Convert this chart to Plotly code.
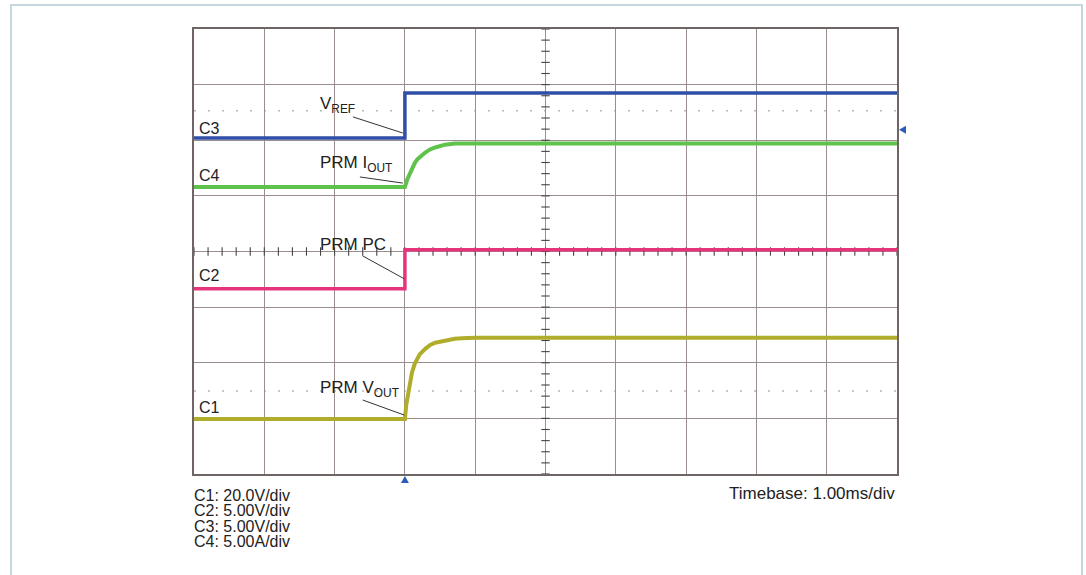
import plotly.graph_objects as go

# ---- data (time in divisions of 1.00 ms, amplitude in divisions) ----
t_step = [0.0, 3.0, 3.0, 10.0]
c3_vref = [6.04, 6.04, 6.85, 6.85]
c2_pc = [3.33, 3.33, 4.03, 4.03]

t_rise4 = [0.0, 3.0, 3.035, 3.07, 3.10, 3.14, 3.18, 3.21, 3.28, 3.35, 3.43, 3.57, 3.71, 4.0, 10.0]
c4_iout = [5.16, 5.16, 5.30, 5.41, 5.50, 5.59, 5.66, 5.70, 5.77, 5.83, 5.87, 5.92, 5.94, 5.94, 5.94]

t_rise1 = [0.0, 3.0, 3.02, 3.05, 3.07, 3.10, 3.14, 3.18, 3.21, 3.29, 3.36, 3.43, 3.57, 3.71, 3.81, 4.0, 10.0]
c1_vout = [0.99, 0.99, 1.25, 1.45, 1.62, 1.82, 1.98, 2.09, 2.15, 2.25, 2.32, 2.36, 2.40, 2.43, 2.44, 2.45, 2.45]

trigger_time = 3.0
trigger_level = 6.19

channel_labels = ["C3", "C4", "C2", "C1"]
channel_label_y = [6.22, 5.36, 3.56, 1.19]
scale_lines = ["C1: 20.0V/div", "C2: 5.00V/div", "C3: 5.00V/div", "C4: 5.00A/div"]
timebase = "Timebase: 1.00ms/div"

BLUE = "#2f4ea6"
GREEN = "#5ec24b"
PINK = "#e6347c"
OLIVE = "#b0ad2c"
GRID = "#9a8e8e"
TRIG = "#2e5cb8"
FONT = "Liberation Sans, Arial, sans-serif"
TXT = "#222222"

L, T = 194, 29
PW, PH = 703, 445
W, H = 1086, 575
XR, YR = 10.0, 8.0

fig = go.Figure()

# graticule dotted level lines
for yv in [6.53, 1.49]:
    fig.add_shape(type="line", x0=0, x1=10, y0=yv, y1=yv, xref="x", yref="y",
                  line=dict(color="#b8b8b8", width=1.5, dash="2px,12px"), layer="below")

# center cross ticks
tick_pos = [i * 0.2 for i in range(51)]
fig.add_trace(go.Scatter(x=tick_pos, y=[4.0] * len(tick_pos), mode="markers",
                         marker=dict(symbol="line-ns-open", size=6, color="#444",
                                     line=dict(width=1.1, color="#444")),
                         hoverinfo="skip", showlegend=False))
ytick_pos = [i * 0.2 for i in range(41)]
fig.add_trace(go.Scatter(x=[5.0] * len(ytick_pos), y=ytick_pos, mode="markers",
                         marker=dict(symbol="line-ew-open", size=6, color="#444",
                                     line=dict(width=1.1, color="#444")),
                         hoverinfo="skip", showlegend=False))

# signal traces
fig.add_trace(go.Scatter(x=t_step, y=c3_vref, mode="lines", line=dict(color=BLUE, width=3.5),
                         showlegend=False, name="C3"))
fig.add_trace(go.Scatter(x=t_rise4, y=c4_iout, mode="lines",
                         line=dict(color=GREEN, width=4),
                         showlegend=False, name="C4"))
fig.add_trace(go.Scatter(x=t_step, y=c2_pc, mode="lines", line=dict(color=PINK, width=3.5),
                         showlegend=False, name="C2"))
fig.add_trace(go.Scatter(x=t_rise1, y=c1_vout, mode="lines",
                         line=dict(color=OLIVE, width=4),
                         showlegend=False, name="C1"))

# trigger markers (paper-referenced so they sit outside the grid)
px = trigger_time / XR
dx, dy = 4 / PW, 4 / PH
fig.add_shape(type="path", xref="paper", yref="paper",
              path=f"M {px} {-2/PH} L {px - dx} {-9/PH} L {px + dx} {-9/PH} Z",
              fillcolor=TRIG, line=dict(color=TRIG, width=0))
py = trigger_level / YR
fig.add_shape(type="path", xref="paper", yref="paper",
              path=f"M {1 + 2/PW} {py} L {1 + 9/PW} {py + dy} L {1 + 9/PW} {py - dy} Z",
              fillcolor=TRIG, line=dict(color=TRIG, width=0))

# leader lines
leaders = [((2.26, 6.42), (2.97, 6.13)),
           ((2.36, 5.34), (2.97, 5.23)),
           ((2.40, 3.92), (2.99, 3.51)),
           ((2.40, 1.33), (2.99, 1.06))]
for (x0, y0), (x1, y1) in leaders:
    fig.add_shape(type="line", x0=x0, y0=y0, x1=x1, y1=y1, xref="x", yref="y",
                  line=dict(color="#333", width=1))

# signal name labels
sig_labels = [("V<sub>REF</sub>", 1.76, 6.63, 17),
              ("PRM I<sub>OUT</sub>", 1.76, 5.57, 17),
              ("PRM PC", 1.77, 4.12, 17),
              ("PRM V<sub>OUT</sub>", 1.77, 1.53, 17)]
for txt, x, y, s in sig_labels:
    fig.add_annotation(x=x, y=y, xref="x", yref="y", text=txt, showarrow=False,
                       xanchor="left", yanchor="middle",
                       font=dict(family=FONT, size=s, color=TXT))

for lab, y in zip(channel_labels, channel_label_y):
    fig.add_annotation(x=0.04, y=y, xref="x", yref="y", text=lab, showarrow=False,
                       xanchor="left", yanchor="middle",
                       font=dict(family=FONT, size=16, color=TXT))

# scale text below
for i, line in enumerate(scale_lines):
    fig.add_annotation(x=0, y=0, xref="paper", yref="paper", text=line, showarrow=False,
                       xanchor="left", yanchor="middle", xshift=-2, yshift=-(21 + 15.6 * i),
                       font=dict(family=FONT, size=16, color=TXT))
fig.add_annotation(x=1, y=0, xref="paper", yref="paper", text=timebase, showarrow=False,
                   xanchor="right", yanchor="middle", xshift=0, yshift=-19,
                   font=dict(family=FONT, size=17, color=TXT))

# outer light border
fig.add_shape(type="rect", xref="paper", yref="paper",
              x0=(11 - L) / PW, x1=(1082 - L) / PW,
              y0=(T + PH - 600) / PH, y1=(T + PH - 5) / PH,
              line=dict(color="#c6d6dd", width=2), layer="below")

fig.update_xaxes(range=[0, XR], dtick=1, tick0=0, showgrid=True, gridcolor=GRID, gridwidth=1.3,
                 showticklabels=False, ticks="", zeroline=False,
                 showline=True, linecolor="#6f6565", linewidth=2, mirror=True, fixedrange=True)
fig.update_yaxes(range=[0, YR], dtick=1, tick0=0, showgrid=True, gridcolor=GRID, gridwidth=1.3,
                 showticklabels=False, ticks="", zeroline=False,
                 showline=True, linecolor="#6f6565", linewidth=2, mirror=True, fixedrange=True)

fig.update_layout(width=W, height=H,
                  margin=dict(l=L, r=W - L - PW, t=T, b=H - T - PH),
                  paper_bgcolor="white", plot_bgcolor="white",
                  showlegend=False)

fig.write_html("out.html", config={"displayModeBar": False},
               post_script="document.body.style.margin='0';document.body.style.overflow='hidden';")
